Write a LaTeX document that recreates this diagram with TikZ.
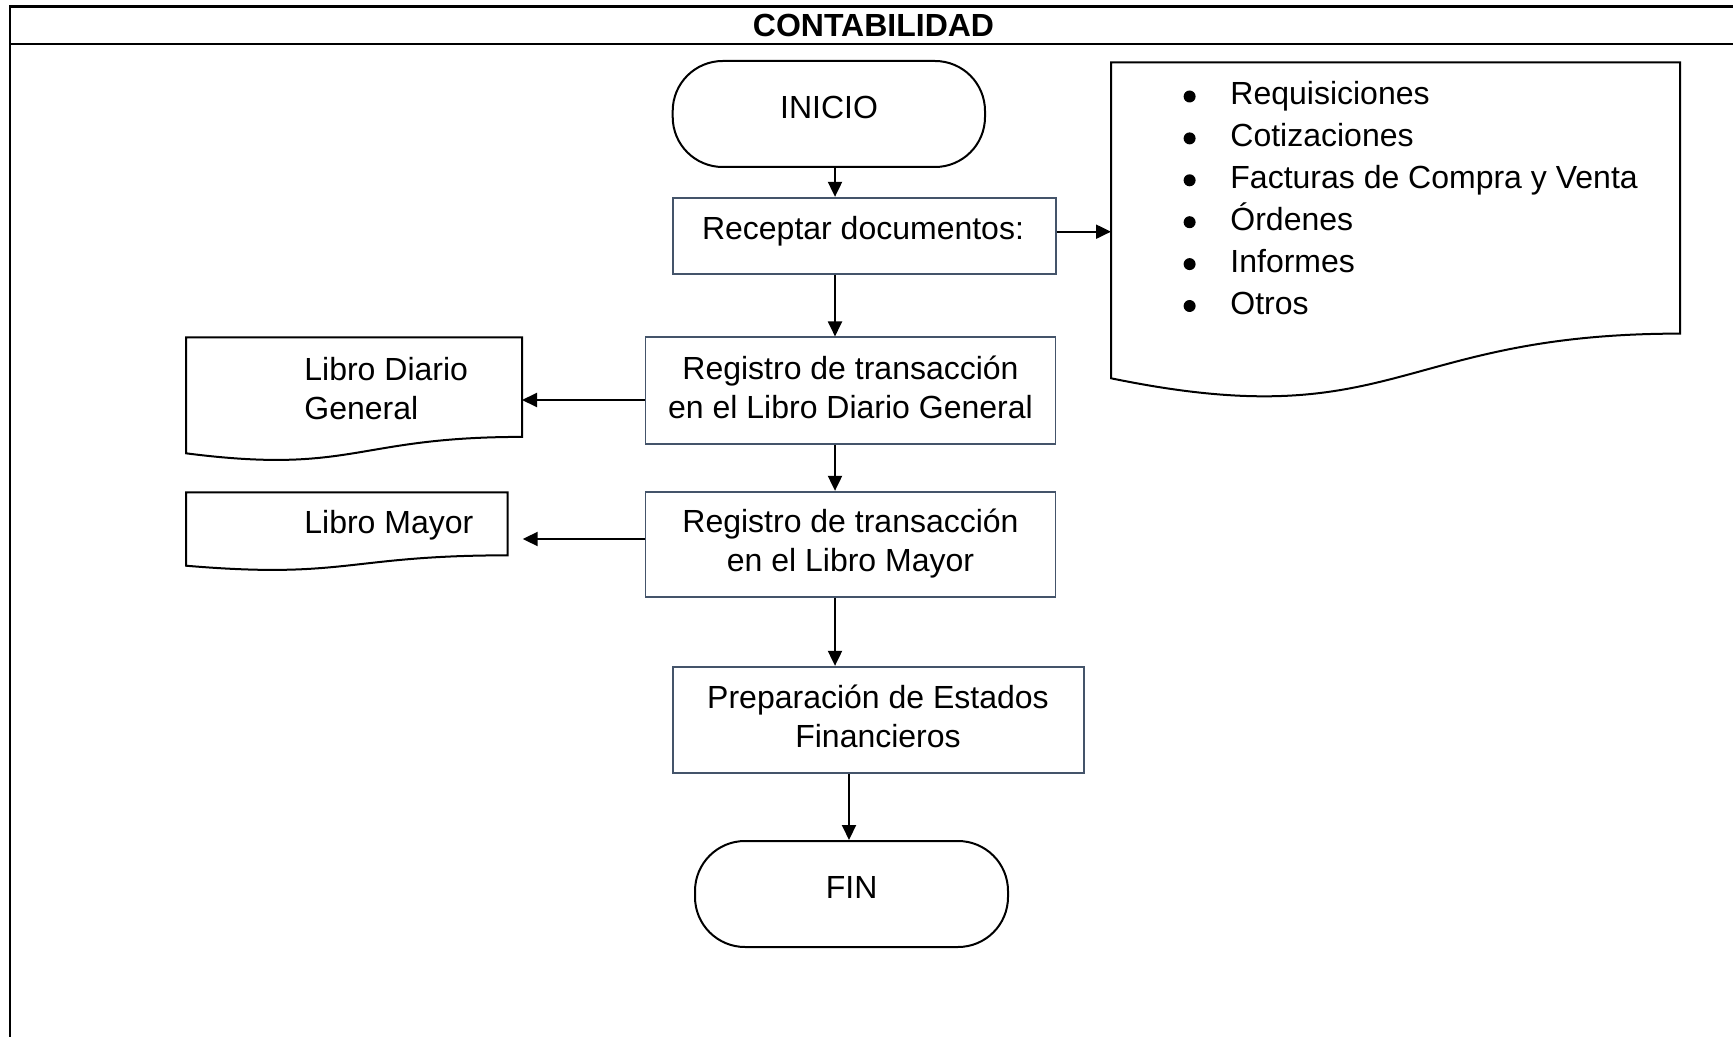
\documentclass[tikz,border=0pt]{standalone}
\usepackage{fontspec}
\setmainfont{Liberation Sans}
\usetikzlibrary{arrows.meta}
\definecolor{boxline}{HTML}{44546A}

% document symbol: flat top, wavy bottom
\newcommand\docshape[4]{%
  \draw[docline] (#1,#2) -- ({#1+#3},#2) -- ({#1+#3},{#2+0.802*#4})
    .. controls ({#1+0.5*#3},{#2+0.802*#4}) and ({#1+0.5*#3},{#2+1.1075*#4})
    .. (#1,{#2+0.934*#4}) -- cycle;}

\begin{document}
\begin{tikzpicture}[x=0.5pt,y=-0.5pt,
  txt/.style={inner sep=0pt,font=\fontsize{16}{19.35}\selectfont},
  procbox/.style={draw=boxline,line width=0.85pt,inner sep=0pt,rectangle},
  terminal/.style={draw=black,line width=1pt,inner sep=0pt,rectangle,rounded corners=25pt},
  docline/.style={draw=black,line width=1pt},
  frameline/.style={draw=black,line width=1.1pt},
  arr/.style={draw=black,line width=1pt,-{Triangle[length=7.5pt,width=7pt]}}]
\useasboundingbox (0,0) rectangle (1733,1037);

% table frame and heading
\draw[frameline] (10,1040) -- (10,6.5) -- (1740,6.5);
\draw[frameline] (10,44) -- (1740,44);
\node[txt,anchor=base,font=\fontsize{16}{19.35}\selectfont\bfseries] (title) at (873.5,37) {CONTABILIDAD};

% vertical flow lines
\coordinate (spine) at (835,0);
\coordinate (spine2) at (849,0);

% start / end terminals
\node[terminal,minimum width=156.15pt,minimum height=53pt] (inicio) at (828.85,114) {};
\node[txt,anchor=base] (inicio-t) at (829,119) {INICIO};
\node[terminal,minimum width=156.5pt,minimum height=53pt] (fin) at (851.5,894) {};
\node[txt,anchor=base] (fin-t) at (851.7,898.5) {FIN};

% process boxes
\node[procbox,minimum width=191.5pt,minimum height=38.15pt] (recep) at (864.2,235.85) {};
\node[txt,anchor=base] (recep-t) at (863,240) {Receptar documentos:};

\node[procbox,minimum width=205pt,minimum height=53.35pt] (reg1) at (850.5,390.65) {};
\node[txt,anchor=base] (reg1-t) at (850.5,418)
  {\begin{tabular}[b]{@{}c@{}}Registro de transacción\\en el Libro Diario General\end{tabular}};

\node[procbox,minimum width=205pt,minimum height=52.65pt] (reg2) at (850.5,544.35) {};
\node[txt,anchor=base] (reg2-t) at (850.5,571)
  {\begin{tabular}[b]{@{}c@{}}Registro de transacción\\en el Libro Mayor\end{tabular}};

\node[procbox,minimum width=205.65pt,minimum height=53.15pt] (prep) at (878.35,719.85) {};
\node[txt,anchor=base] (prep-t) at (878,747.5)
  {\begin{tabular}[b]{@{}c@{}}Preparación de Estados\\Financieros\end{tabular}};

% documents
\docshape{1111}{62.3}{569}{338.3}
\coordinate (docs-in) at (1111,231.7);
\foreach \item [count=\i from 0] in {Requisiciones,Cotizaciones,Facturas de Compra y Venta,Órdenes,Informes,Otros}{
  \fill ({1189.6},{105+41.9*\i-8.5}) circle[radius=3pt];
  \node[txt,anchor=base west] (item-\i) at (1230,{105+41.9*\i}) {\item};
}

\docshape{186}{337.3}{336}{124.2}
\coordinate (diario-in) at (522,400);
\node[txt,anchor=base west] (diario-t) at (304,419)
  {\begin{tabular}[b]{@{}l@{}}Libro Diario\\General\end{tabular}};

\docshape{186}{492.3}{321.7}{78.6}
\coordinate (mayor-in) at (522.7,539);
\node[txt,anchor=base west] (mayor-t) at (304,533.5) {Libro Mayor};

% connectors
\draw[arr] (inicio.south -| spine) -- (recep.north -| spine);
\draw[arr] (recep.east |- docs-in) -- (docs-in);
\draw[arr] (recep.south -| spine) -- (reg1.north -| spine);
\draw[arr] (reg1.west |- diario-in) -- (diario-in);
\draw[arr] (reg1.south -| spine) -- (reg2.north -| spine);
\draw[arr] (reg2.west |- mayor-in) -- (mayor-in);
\draw[arr] (reg2.south -| spine) -- (prep.north -| spine);
\draw[arr] (prep.south -| spine2) -- (fin.north -| spine2);
\end{tikzpicture}
\end{document}
